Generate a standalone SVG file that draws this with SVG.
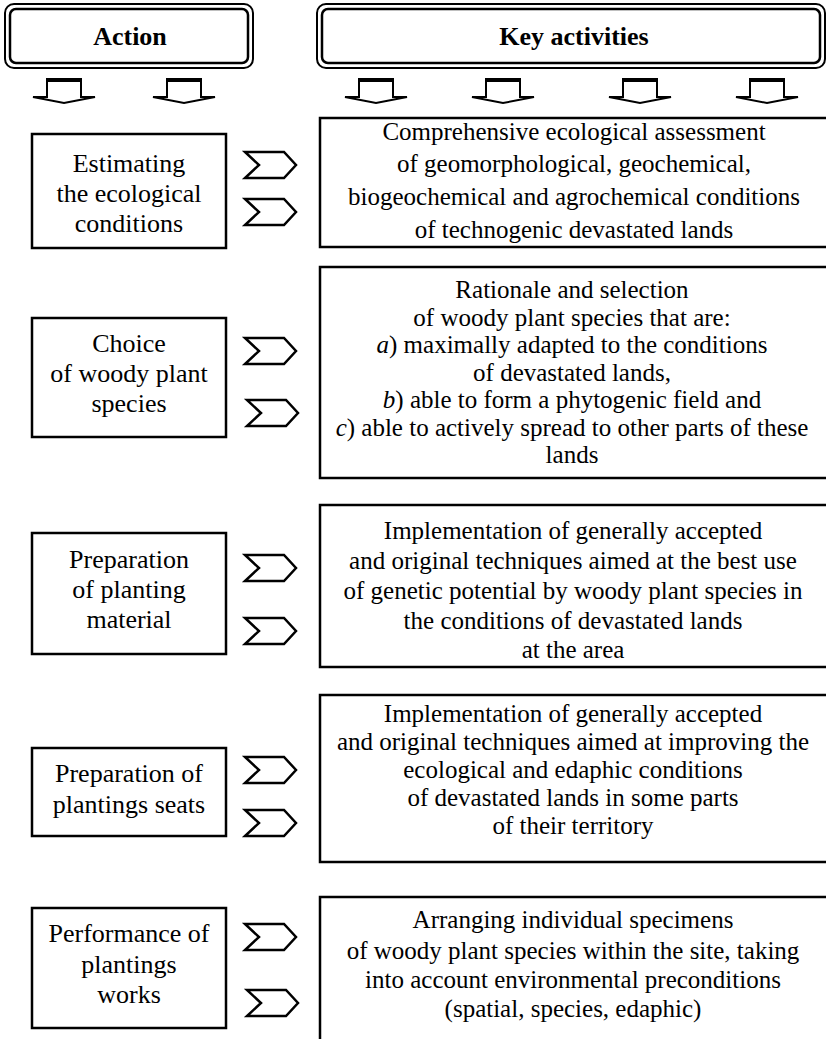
<svg xmlns="http://www.w3.org/2000/svg" width="826" height="1039" viewBox="0 0 826 1039">
  <style>
    .bg { fill: #ffffff; }
    .hdr-out { fill: #ffffff; stroke: #000; stroke-width: 2; }
    .hdr-in { fill: none; stroke: #000; stroke-width: 2.5; }
    .box { fill: #ffffff; stroke: #000; stroke-width: 2.5; }
    .chev { fill: #ffffff; stroke: #000; stroke-width: 2.5; stroke-linejoin: miter; }
    .down { fill: #ffffff; stroke: #000; stroke-width: 2; stroke-linejoin: miter; }
    .bar { stroke: #000; stroke-width: 4; }
    text { font-family: "Liberation Serif", "Times New Roman", serif; fill: #000; text-anchor: middle; }
    .hd { font-size: 26px; font-weight: bold; }
    .lt { font-size: 26px; }
    .rt { font-size: 25px; }
    .it { font-style: italic; }
  </style>
  <defs>
    <!-- block arrow pointing down, drawn around x = 0 -->
    <g id="downArrow">
      <path class="down" d="M-17,80 L17,80 L17,97 L31,97 L0,103 L-31,97 L-17,97 Z"/>
      <line class="bar" x1="-18" y1="80" x2="18" y2="80"/>
    </g>
    <!-- notched chevron pointing right -->
    <path id="chevron" class="chev" d="M0,0 L39,0 L51,13 L39,26 L0,26 L14,13 Z"/>
  </defs>

  <rect class="bg" x="0" y="0" width="826" height="1039"/>

  <!-- column headers -->
  <g id="header-action">
    <rect class="hdr-out" x="5" y="4" width="248" height="64" rx="9"/>
    <rect class="hdr-in" x="10" y="9" width="238" height="54" rx="6"/>
    <text class="hd" x="130" y="45">Action</text>
  </g>
  <g id="header-key">
    <rect class="hdr-out" x="317" y="4" width="508" height="64" rx="9"/>
    <rect class="hdr-in" x="322" y="9" width="498" height="54" rx="6"/>
    <text class="hd" x="574" y="45">Key activities</text>
  </g>

  <!-- connectors: down arrows under headers, chevrons between columns -->
  <g id="connectors">
    <use href="#downArrow" x="64" y="0"/>
    <use href="#downArrow" x="184" y="0"/>
    <use href="#downArrow" x="376" y="0"/>
    <use href="#downArrow" x="503" y="0"/>
    <use href="#downArrow" x="640" y="0"/>
    <use href="#downArrow" x="767" y="0"/>

    <use href="#chevron" x="245" y="152"/>
    <use href="#chevron" x="245" y="199"/>
    <use href="#chevron" x="245" y="338"/>
    <use href="#chevron" x="247" y="400"/>
    <use href="#chevron" x="245" y="555"/>
    <use href="#chevron" x="245" y="618"/>
    <use href="#chevron" x="245" y="757"/>
    <use href="#chevron" x="245" y="810"/>
    <use href="#chevron" x="245" y="924"/>
    <use href="#chevron" x="247" y="990"/>
  </g>

  <!-- action column -->
  <g id="action-1">
    <rect class="box" x="32" y="134" width="194" height="114"/>
    <text class="lt" x="129" y="172">Estimating</text>
    <text class="lt" x="129" y="202">the ecological</text>
    <text class="lt" x="129" y="232">conditions</text>
  </g>
  <g id="action-2">
    <rect class="box" x="32" y="318" width="194" height="119"/>
    <text class="lt" x="129" y="352">Choice</text>
    <text class="lt" x="129" y="382">of woody plant</text>
    <text class="lt" x="129" y="412">species</text>
  </g>
  <g id="action-3">
    <rect class="box" x="32" y="533" width="194" height="121"/>
    <text class="lt" x="129" y="568">Preparation</text>
    <text class="lt" x="129" y="598">of planting</text>
    <text class="lt" x="129" y="628">material</text>
  </g>
  <g id="action-4">
    <rect class="box" x="32" y="748" width="194" height="88"/>
    <text class="lt" x="129" y="782">Preparation of</text>
    <text class="lt" x="129" y="813">plantings seats</text>
  </g>
  <g id="action-5">
    <rect class="box" x="32" y="908" width="194" height="120"/>
    <text class="lt" x="129" y="942">Performance of</text>
    <text class="lt" x="129" y="973">plantings</text>
    <text class="lt" x="129" y="1003">works</text>
  </g>

  <!-- key activities column (boxes run past the right edge) -->
  <g id="activity-1">
    <rect class="box" x="320" y="118" width="520" height="129"/>
    <text class="rt" x="574" y="140">Comprehensive ecological assessment</text>
    <text class="rt" x="574" y="172">of geomorphological, geochemical,</text>
    <text class="rt" x="574" y="205">biogeochemical and agrochemical conditions</text>
    <text class="rt" x="574" y="238">of technogenic devastated lands</text>
  </g>
  <g id="activity-2">
    <rect class="box" x="320" y="267" width="520" height="211"/>
    <text class="rt" x="572" y="298">Rationale and selection</text>
    <text class="rt" x="572" y="326">of woody plant species that are:</text>
    <text class="rt" x="572" y="353"><tspan class="it">a</tspan>) maximally adapted to the conditions</text>
    <text class="rt" x="572" y="381">of devastated lands,</text>
    <text class="rt" x="572" y="408"><tspan class="it">b</tspan>) able to form a phytogenic field and</text>
    <text class="rt" x="572" y="436"><tspan class="it">c</tspan>) able to actively spread to other parts of these</text>
    <text class="rt" x="572" y="463">lands</text>
  </g>
  <g id="activity-3">
    <rect class="box" x="320" y="505" width="520" height="162"/>
    <text class="rt" x="573" y="539">Implementation of generally accepted</text>
    <text class="rt" x="573" y="569">and original techniques aimed at the best use</text>
    <text class="rt" x="573" y="599">of genetic potential by woody plant species in</text>
    <text class="rt" x="573" y="629">the conditions of devastated lands</text>
    <text class="rt" x="573" y="658">at the area</text>
  </g>
  <g id="activity-4">
    <rect class="box" x="320" y="695" width="520" height="167"/>
    <text class="rt" x="573" y="722">Implementation of generally accepted</text>
    <text class="rt" x="573" y="750">and original techniques aimed at improving the</text>
    <text class="rt" x="573" y="778">ecological and edaphic conditions</text>
    <text class="rt" x="573" y="806">of devastated lands in some parts</text>
    <text class="rt" x="573" y="834">of their territory</text>
  </g>
  <g id="activity-5">
    <rect class="box" x="320" y="897" width="520" height="160"/>
    <text class="rt" x="573" y="928">Arranging individual specimens</text>
    <text class="rt" x="573" y="959">of woody plant species within the site, taking</text>
    <text class="rt" x="573" y="988">into account environmental preconditions</text>
    <text class="rt" x="573" y="1017">(spatial, species, edaphic)</text>
  </g>
</svg>
